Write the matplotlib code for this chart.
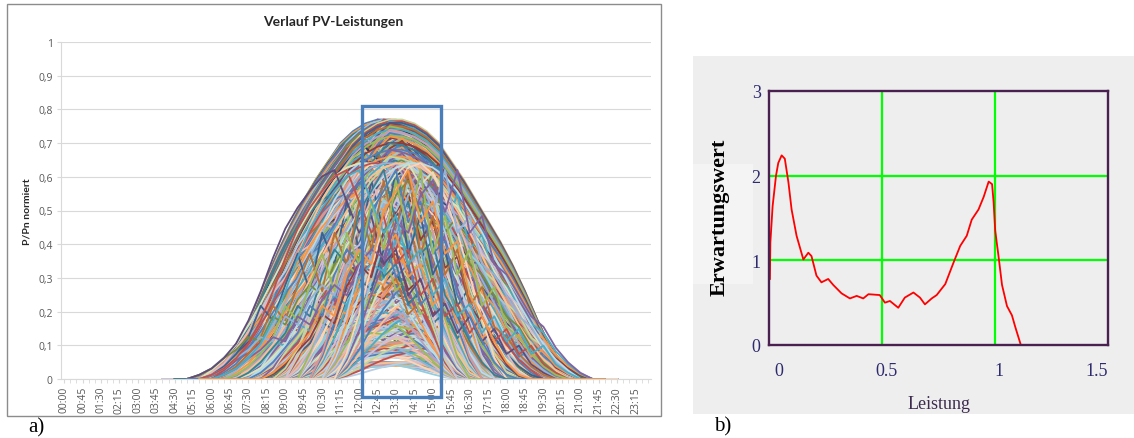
import matplotlib
matplotlib.use("Agg")
import matplotlib.pyplot as plt
from matplotlib.patches import Rectangle
from matplotlib.transforms import ScaledTranslation

# ---------------- data: panel a) ----------------
slot_labels = [f"{h:02d}:{m:02d}" for h in range(24) for m in (0, 15, 30, 45)]
tick_step = 3
profile_times = [f"{h:02d}:{m:02d}" for h in range(5, 22) for m in (0, 30)]  # 05:00 .. 21:30

# clear / lightly clouded days (saturated colours, drawn first)
prof_summer = [0, 0, .02, .05, .10, .17, .27, .39, .50, .60, .69, .77, .84, .91, .955, .985, 1, 1,
               .985, .955, .91, .84, .77, .69, .61, .53, .44, .34, .23, .13, .06, .02, 0, 0]
prof_cloud_a = [0, 0, .02, .05, .09, .15, .24, .35, .46, .53, .63, .70, .74, .80, .86, .83, .90, .93,
                .87, .80, .84, .74, .70, .62, .57, .48, .40, .31, .21, .12, .06, .02, 0, 0]
prof_cloud_b = [0, 0, .02, .05, .10, .17, .27, .39, .50, .60, .69, .77, .84, .90, .93, .88, .80, .84,
                .70, .66, .58, .62, .45, .50, .38, .30, .33, .20, .22, .11, .06, .02, 0, 0]
prof_cloud_c = [0, 0, .01, .03, .05, .08, .10, .14, .20, .28, .40, .52, .66, .78, .88, .95, 1, .99,
                .97, .94, .89, .82, .75, .67, .59, .50, .41, .31, .21, .12, .06, .02, 0, 0]
prof_cloud_e = [0, 0, .02, .05, .09, .15, .23, .33, .43, .52, .58, .66, .70, .64, .72, .60, .55, .48,
                .52, .40, .36, .30, .33, .26, .28, .20, .22, .15, .16, .08, .04, .01, 0, 0]

# strongly clouded days (saturated colours, mid level)
prof_jag_1 = [0, 0, 0, .02, .06, .12, .20, .35, .28, .45, .60, .42, .70, .55, .85, .62, .95, .70,
              1, .60, .78, .50, .62, .35, .44, .25, .20, .12, .06, .02, 0, 0, 0, 0]
prof_jag_2 = [0, 0, .02, .05, .10, .14, .20, .18, .30, .26, .38, .45, .40, .55, .62, .58, .75, .70,
              .88, .95, .80, 1, .70, .78, .55, .50, .40, .30, .25, .15, .08, .03, 0, 0]
prof_jag_3 = [0, 0, .02, .05, .10, .17, .28, .42, .58, .72, .82, .90, .97, 1, .85, .70, .78, .55,
              .62, .40, .48, .30, .36, .22, .30, .18, .24, .12, .16, .07, .03, 0, 0, 0]
prof_jag_4 = [0, 0, 0, 0, 0, 0, .03, .08, .15, .22, .35, .30, .50, .62, .55, .80, .90, 1,
              .75, .85, .60, .66, .40, .30, .18, .08, .02, 0, 0, 0, 0, 0, 0, 0]

# short / overcast days (pastel colours, drawn last)
prof_spring = [0, 0, 0, 0, .04, .09, .16, .25, .35, .46, .57, .68, .78, .87, .94, .98, 1, 1,
               .98, .94, .87, .78, .68, .57, .46, .35, .25, .16, .09, .04, 0, 0, 0, 0]
prof_winter = [0, 0, 0, 0, 0, 0, 0, .05, .14, .27, .42, .57, .71, .83, .92, .98, 1, .99,
               .94, .85, .73, .58, .42, .26, .12, .03, 0, 0, 0, 0, 0, 0, 0, 0]
prof_cloud_d = [0, 0, 0, 0, .03, .07, .14, .22, .31, .40, .47, .58, .62, .72, .70, .83, .78, .90,
                .82, .80, .70, .72, .58, .52, .40, .34, .22, .17, .08, .03, 0, 0, 0, 0]
prof_overcast = [0, 0, 0, .02, .05, .10, .16, .25, .32, .42, .50, .62, .70, .80, .86, .95, 1, .90,
                 .96, .84, .80, .70, .62, .50, .42, .32, .22, .14, .08, .03, 0, 0, 0, 0]
prof_narrow = [0, 0, 0, 0, 0, 0, 0, 0, 0, 0, 0, .12, .30, .52, .72, .88, .98, 1,
               .95, .84, .68, .48, .28, .10, 0, 0, 0, 0, 0, 0, 0, 0, 0, 0]

peaks_high = [0.77, 0.765, 0.76, 0.75, 0.74, 0.73, 0.72, 0.70, 0.68, 0.66, 0.63, 0.60, 0.57, 0.53]
peaks_mid = [0.20, 0.27, 0.34, 0.41, 0.48, 0.55, 0.62]
peaks_low = [0.05, 0.08, 0.11, 0.15, 0.19, 0.24, 0.29, 0.35, 0.41, 0.48, 0.56, 0.64]
shifts_high = [-1, 0, 1]
shifts_mid = [-2, 0, 2]
shifts_low = [-4, -2, 0, 2, 4]

highlight_x = (48.4, 61.4)
highlight_y = (-0.053, 0.81)

colors_high = ["#4F81BD", "#C0504D", "#9BBB59", "#8064A2", "#4BACC6", "#F79646",
               "#3B618E", "#903C3A", "#748C43", "#604B7A", "#388195", "#B97135",
               "#4F81BD", "#C0504D", "#9BBB59", "#8064A2", "#4BACC6", "#F79646",
               "#28415F", "#D99694", "#C3D69B", "#B3A2C7", "#93CDDD", "#FAC090"]
colors_mid = ["#C0504D", "#4F81BD", "#9BBB59", "#8064A2", "#4BACC6", "#F79646",
              "#903C3A", "#3B618E", "#748C43", "#604B7A", "#388195", "#B97135", "#95B3D7"]
colors_low = ["#95B3D7", "#D99694", "#C3D69B", "#B3A2C7", "#93CDDD", "#FAC090",
              "#B9CDE5", "#E6B9B8", "#D7E4BD", "#CCC1DA", "#B7DEE8", "#FCD5B5",
              "#4F81BD", "#C0504D", "#9BBB59", "#8064A2", "#4BACC6", "#F79646"]

# ---------------- data: panel b) ----------------
leistung = [0.004, 0.006, 0.016, 0.031, 0.041, 0.056, 0.07, 0.086, 0.10, 0.122, 0.152, 0.174, 0.188,
            0.21, 0.232, 0.262, 0.284, 0.321, 0.358, 0.388, 0.417, 0.44, 0.49, 0.513, 0.535, 0.572,
            0.601, 0.639, 0.668, 0.69, 0.72, 0.742, 0.78, 0.816, 0.846, 0.875, 0.897, 0.927, 0.95,
            0.972, 0.987, 0.994, 1.001, 1.016, 1.031, 1.053, 1.075, 1.09, 1.112]
erwartung = [0.78, 1.21, 1.64, 2.0, 2.15, 2.24, 2.2, 1.92, 1.6, 1.29, 1.01, 1.09, 1.05,
             0.82, 0.74, 0.78, 0.71, 0.61, 0.55, 0.58, 0.55, 0.6, 0.59, 0.5, 0.52, 0.44,
             0.56, 0.62, 0.56, 0.48, 0.55, 0.59, 0.72, 0.97, 1.17, 1.29, 1.48, 1.6, 1.75,
             1.93, 1.9, 1.68, 1.35, 1.04, 0.71, 0.46, 0.35, 0.21, 0.02]
b_xticks = [0, 0.5, 1, 1.5]
b_xticklabels = ["0", "0.5", "1", "1.5"]
b_yticks = [0, 1, 2, 3]
grid_x = [0.5, 1.0]
grid_y = [1, 2]

# ---------------- figure ----------------
W, H = 1134, 439
fig = plt.figure(figsize=(W / 100, H / 100), dpi=100)


def fx(px):
    return px / W


def fy(py):
    return 1 - py / H


# frame of panel a)
fig.patches.append(Rectangle((fx(7), fy(417)), fx(661) - fx(7), fy(5) - fy(417),
                             transform=fig.transFigure, fill=False, edgecolor="#8C8C8C", lw=1.0,
                             zorder=-5))

ax = fig.add_axes([fx(61), fy(380), fx(651) - fx(61), fy(43) - fy(380)])
prof_x = [slot_labels.index(t) for t in profile_times]

high_profiles = [prof_summer, prof_cloud_a, prof_cloud_b, prof_cloud_c, prof_cloud_e]
mid_profiles = [prof_jag_1, prof_jag_2, prof_jag_3, prof_jag_4]
low_profiles = [prof_winter, prof_overcast, prof_cloud_d, prof_spring, prof_narrow]


def series(profiles, peaks, shifts, colors, outer_shift=True):
    out = []
    k = 0
    if outer_shift:
        combos = [(s, p) for s in shifts for p in peaks]
    else:
        combos = [(s, p) for p in peaks for s in shifts]
    for s, p in combos:
        for prof in profiles:
            out.append(([x + s for x in prof_x], [v * p for v in prof], colors[k % len(colors)]))
            k += 1
    return out


high_series = series(high_profiles, peaks_high, shifts_high, colors_high)
mid_series = series(mid_profiles, peaks_mid, shifts_mid, colors_mid, outer_shift=False)
low_series = series(low_profiles, peaks_low, shifts_low, colors_low, outer_shift=False)

for xs, ys, c in high_series:
    ax.plot(xs, ys, color=c, lw=1.3, solid_joinstyle="round")
# mix saturated cloudy days among the pastel ones
mi = 0
for i, (xs, ys, c) in enumerate(low_series):
    ax.plot(xs, ys, color=c, lw=1.3, solid_joinstyle="round")
    if i % 4 == 1 and mi < len(mid_series):
        mx, my, mc = mid_series[mi]
        ax.plot(mx, my, color=mc, lw=1.3, solid_joinstyle="round")
        mi += 1
for mx, my, mc in mid_series[mi:]:
    ax.plot(mx, my, color=mc, lw=1.3, solid_joinstyle="round")

ax.set_xlim(-0.5, 95.5)
ax.set_ylim(0, 1)
yt = [i / 10 for i in range(11)]
ax.set_yticks(yt)
ax.set_yticklabels(["0" if v == 0 else ("1" if v == 1 else f"{v:.1f}".replace(".", ",")) for v in yt])
ax.set_xticks(range(0, 96, tick_step))
ax.set_xticklabels(slot_labels[::tick_step], rotation=90)
ax.set_xticks(range(0, 96), minor=True)
ax.grid(axis="y", color="#D9D9D9", lw=0.8)
ax.set_axisbelow(True)
for side in ("top", "right"):
    ax.spines[side].set_visible(False)
for side in ("left", "bottom"):
    ax.spines[side].set_color("#D9D9D9")
    ax.spines[side].set_linewidth(0.8)
ax.tick_params(axis="y", length=3, color="#D9D9D9", labelsize=7.5, labelcolor="#595959", pad=3)
ax.tick_params(axis="x", which="both", length=3, color="#D9D9D9", labelsize=7.5, labelcolor="#595959", pad=2)
for lab in ax.get_xticklabels() + ax.get_yticklabels():
    lab.set_family("Open Sans")

ax.add_patch(Rectangle((highlight_x[0], highlight_y[0]), highlight_x[1] - highlight_x[0],
                       highlight_y[1] - highlight_y[0], fill=False, edgecolor="#4A7EBB",
                       lw=2.4, clip_on=False, zorder=10))

fig.text(fx(333), fy(22), "Verlauf PV-Leistungen", ha="center", va="center",
         fontsize=10, fontweight="bold", family="Lato", color="#262626")
fig.text(fx(27), fy(212), "P/Pn normiert", ha="center", va="center", rotation=90,
         fontsize=7.5, fontweight="bold", family="Lato", color="#262626")

# ---------------- panel b) ----------------
bg = "#EEEEEE"
fig.patches.append(Rectangle((fx(693), fy(415)), fx(1134) - fx(693), fy(57) - fy(415),
                             transform=fig.transFigure, facecolor=bg, edgecolor="none", zorder=-10))
fig.patches.append(Rectangle((fx(693), fy(285)), fx(753) - fx(693), fy(165) - fy(285),
                             transform=fig.transFigure, facecolor="#F4F4F4", edgecolor="none", zorder=-9))

bx = fig.add_axes([fx(769), fy(346), fx(1108) - fx(769), fy(92) - fy(346)])
bx.set_facecolor(bg)
for v in grid_x:
    bx.axvline(v, color="#00FF00", lw=1.6, zorder=1)
for v in grid_y:
    bx.axhline(v, color="#00FF00", lw=1.6, zorder=1)
bx.plot(leistung, erwartung, color="#FF0000", lw=1.3, zorder=3)
bx.set_xlim(0, 1.5)
bx.set_ylim(0, 3)
bx.set_xticks(b_xticks)
bx.set_xticklabels(b_xticklabels)
bx.set_yticks(b_yticks)
for sp in bx.spines.values():
    sp.set_color("#4A2050")
    sp.set_linewidth(1.7)
    sp.set_zorder(5)
bx.tick_params(length=0, labelsize=13, labelcolor="#2D2A6E")
bx.tick_params(axis="x", pad=12)
bx.tick_params(axis="y", pad=6)
for lab in bx.get_xticklabels() + bx.get_yticklabels():
    lab.set_family("Liberation Serif")
for lab, dx in zip(bx.get_xticklabels(), [10, 5, 4, -11]):
    lab.set_transform(lab.get_transform() + ScaledTranslation(dx / 100, 0, fig.dpi_scale_trans))

fig.text(fx(720), fy(217), "Erwartungswert", ha="center", va="center", rotation=90,
         fontsize=16, fontweight="bold", family="Liberation Serif", color="black")
fig.text(fx(939), fy(405), "Leistung", ha="center", va="center",
         fontsize=13, family="Liberation Serif", color="#3D2B4F")

fig.text(fx(36), fy(428), "a)", ha="center", va="center", fontsize=15, family="Liberation Serif")
fig.text(fx(723), fy(427), "b)", ha="center", va="center", fontsize=15, family="Liberation Serif")

fig.savefig("out.png", dpi=100)
